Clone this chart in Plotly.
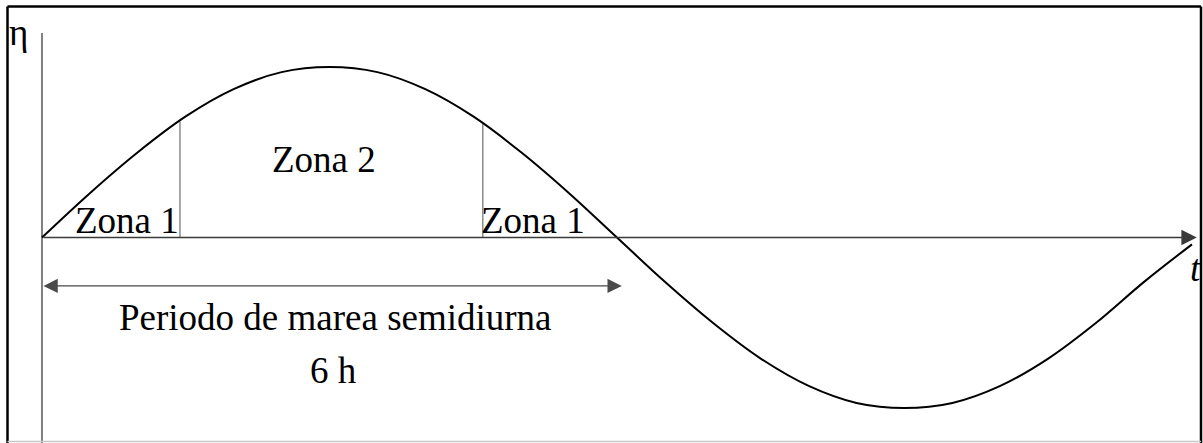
import plotly.graph_objects as go

# curva de marea (t en horas, eta normalizada)
T_HOURS = [0, 0.5, 1, 1.5, 2, 2.5, 3, 3.5, 4, 4.5, 5, 5.5, 6,
           6.5, 7, 7.5, 8, 8.5, 9, 9.5, 10, 10.5, 11, 11.5, 12]
ETA = [0, 0.26, 0.50, 0.71, 0.87, 0.97, 1.00, 0.97, 0.87, 0.71, 0.50, 0.26, 0.0,
       -0.26, -0.50, -0.71, -0.87, -0.97, -1.00, -0.97, -0.87, -0.71, -0.50, -0.26, -0.04]

# limites de zonas
ZONE_T = [1.44, 4.6]
ZONE_ETA = [0.68, 0.67]

# flecha del periodo (media marea = 6 h)
PERIOD_T = [0, 6.05]
PERIOD_ETA = -0.284

LABELS = [
    ("Zona 1", 0.89, 0.10),
    ("Zona 2", 2.94, 0.46),
    ("Zona 1", 5.12, 0.10),
    ("Periodo de marea semidiurna", 3.06, -0.469),
    ("6 h", 3.04, -0.78),
]

X_RANGE = [-0.438, 12.115]
Y_RANGE = [-1.205, 1.393]
FONT = "Liberation Serif, Times New Roman, serif"
FSIZE = 37

fig = go.Figure()

# lineas de separacion de zonas
zx, zy = [], []
for t, e in zip(ZONE_T, ZONE_ETA):
    zx += [t, t, None]
    zy += [0, e, None]
fig.add_trace(go.Scatter(x=zx, y=zy, mode="lines",
                         line=dict(color="#7a7a7a", width=1.3), hoverinfo="skip"))

# eje vertical
fig.add_trace(go.Scatter(x=[0, 0], y=[Y_RANGE[0], 1.199], mode="lines",
                         line=dict(color="#7f7f7f", width=2), hoverinfo="skip"))

# curva
fig.add_trace(go.Scatter(x=T_HOURS, y=ETA, mode="lines",
                         line=dict(color="black", width=2, shape="spline"),
                         hoverinfo="skip"))

# eje t con flecha
fig.add_annotation(x=12.05, y=0, ax=0, ay=0, axref="x", ayref="y",
                   xref="x", yref="y", text="", showarrow=True,
                   arrowhead=2, arrowsize=2.2, arrowwidth=1.4, arrowcolor="#3a3a3a")

# flecha doble del periodo
fig.add_annotation(x=PERIOD_T[1], y=PERIOD_ETA, ax=PERIOD_T[0], ay=PERIOD_ETA,
                   axref="x", ayref="y", xref="x", yref="y", text="",
                   showarrow=True, arrowside="end+start",
                   arrowhead=2, startarrowhead=2, arrowsize=2.2, startarrowsize=2.2,
                   arrowwidth=1.3, arrowcolor="#4a4a4a")

for txt, x, y in LABELS:
    fig.add_annotation(x=x, y=y, xref="x", yref="y", text=txt, showarrow=False,
                       font=dict(family=FONT, size=FSIZE, color="black"),
                       xanchor="center", yanchor="middle")

fig.add_annotation(x=-0.24, y=1.20, xref="x", yref="y", text="η", showarrow=False,
                   font=dict(family=FONT, size=FSIZE, color="black"))
fig.add_annotation(x=12.04, y=-0.18, xref="x", yref="y", text="<i>t</i>", showarrow=False,
                   font=dict(family=FONT, size=FSIZE, color="black"))

# marco
W, H = 1203, 443
frame = dict(xref="paper", yref="paper", type="line")
fig.add_shape(**frame, x0=7.5 / W, x1=7.5 / W, y0=0, y1=1 - 6.5 / H, line=dict(color="black", width=2.5))
fig.add_shape(**frame, x0=7.5 / W, x1=1201 / W, y0=1 - 6.5 / H, y1=1 - 6.5 / H, line=dict(color="black", width=2.5))
fig.add_shape(**frame, x0=1201 / W, x1=1201 / W, y0=0, y1=1 - 6.5 / H, line=dict(color="black", width=2.5))
fig.add_shape(**frame, x0=7.5 / W, x1=1201 / W, y0=1.5 / H, y1=1.5 / H, line=dict(color="#c8c8c8", width=1.5))

fig.update_xaxes(range=X_RANGE, visible=False)
fig.update_yaxes(range=Y_RANGE, visible=False)
fig.update_layout(width=W, height=H, margin=dict(l=0, r=0, t=0, b=0),
                  plot_bgcolor="white", paper_bgcolor="white", showlegend=False)

# sin margen del body para que la figura quede en (0, 0)
fig.write_html("out.html", config={"displayModeBar": False},
               post_script="document.body.style.margin='0';")
